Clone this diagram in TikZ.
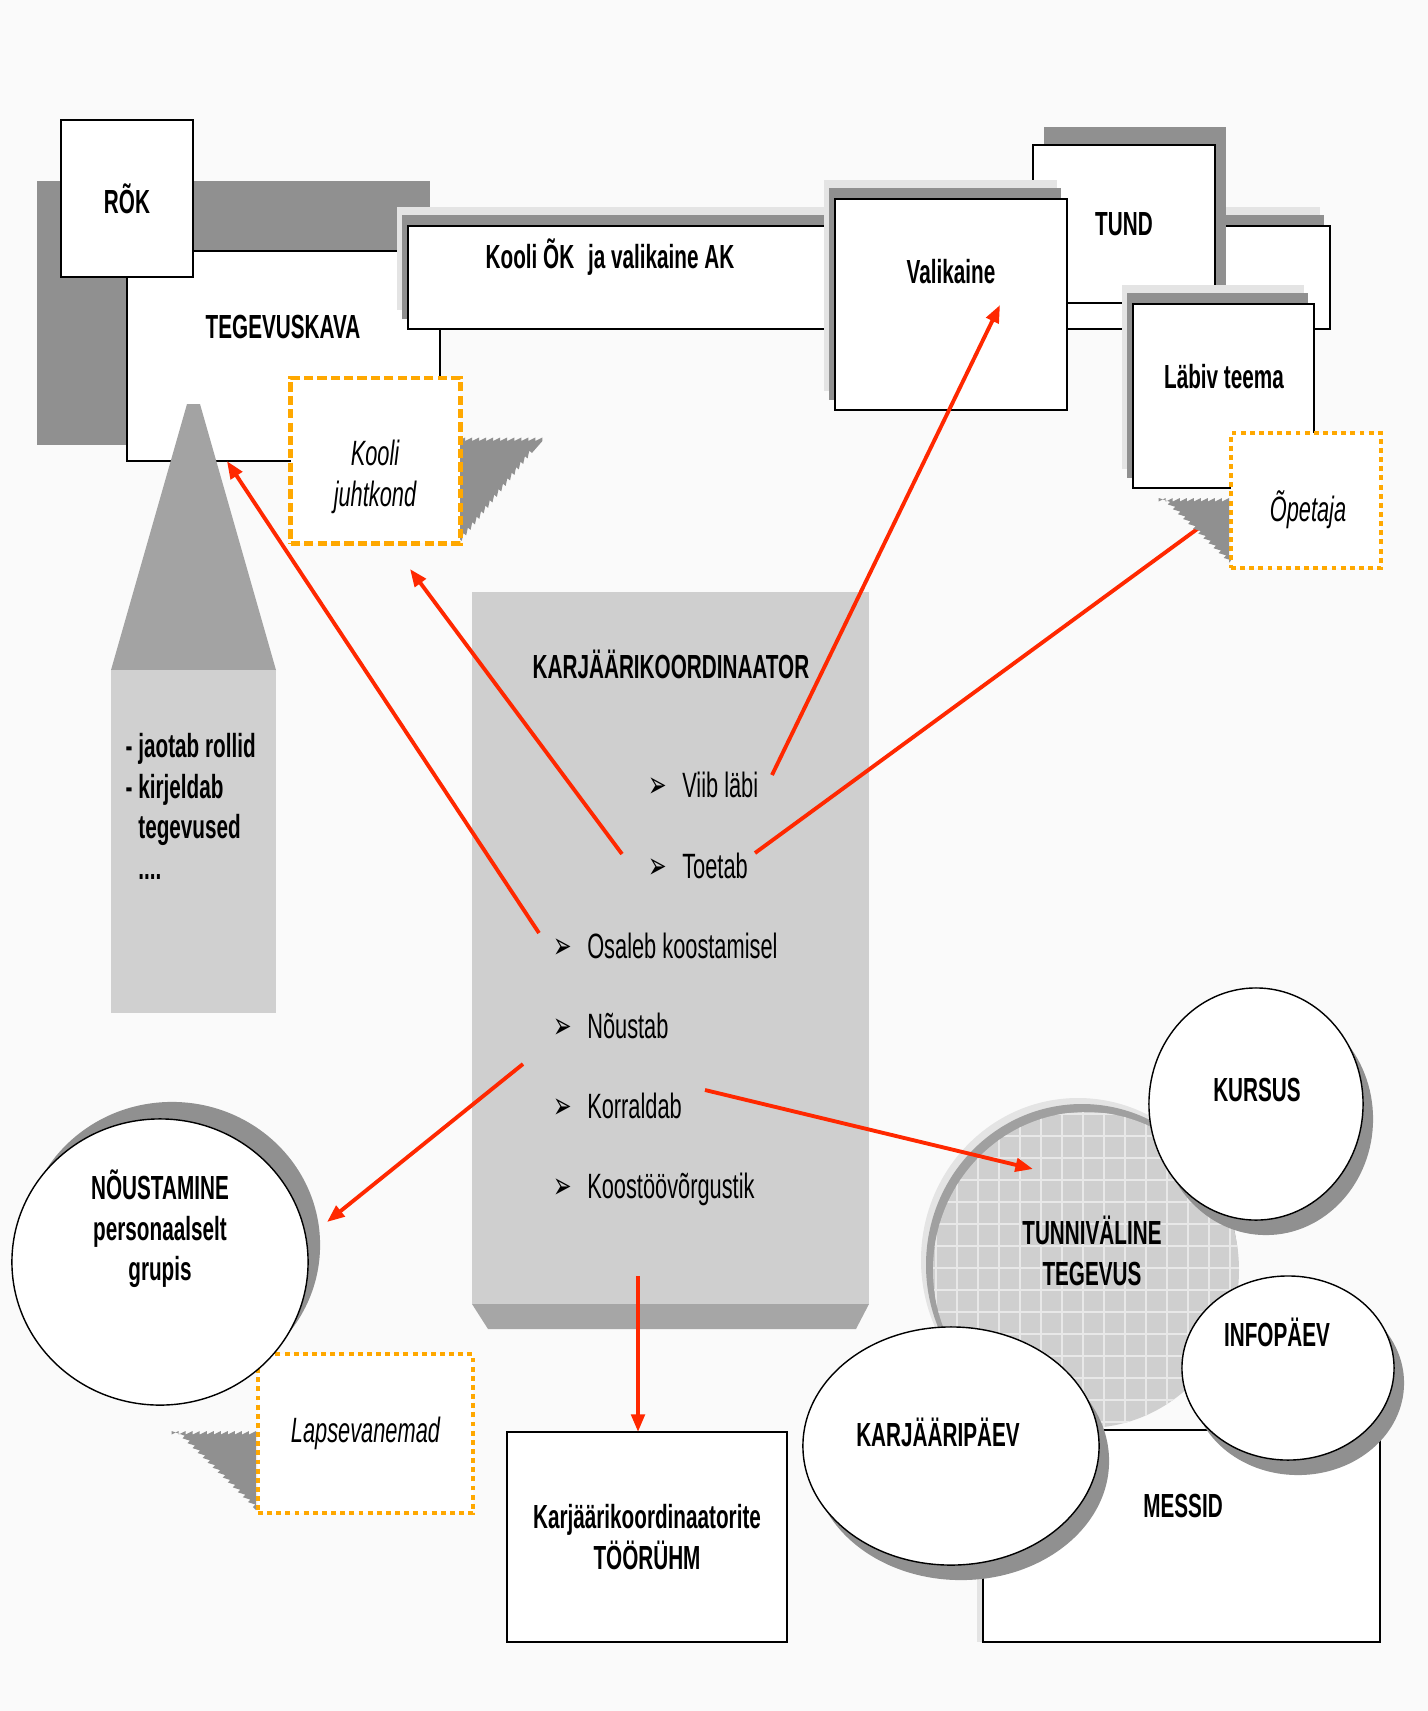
\documentclass[tikz,border=0pt]{standalone}
\usepackage{fontspec}
\setmainfont{Liberation Sans}[FakeStretch=0.62]
\newfontfamily\symf{DejaVu Sans}[FakeStretch=0.6]
\usetikzlibrary{arrows.meta,calc,shadows,shapes.geometric,decorations.pathmorphing}
\definecolor{paper}{RGB}{250,250,250}
\definecolor{shadedark}{RGB}{144,144,144}
\definecolor{shadelight}{RGB}{228,228,228}
\definecolor{pyramid}{RGB}{163,163,163}
\definecolor{pillar}{RGB}{208,208,208}
\definecolor{panel}{RGB}{207,207,207}
\definecolor{panelbase}{RGB}{166,166,166}
\definecolor{rim}{RGB}{160,160,160}
\definecolor{gridline}{RGB}{232,232,232}
\definecolor{hilite}{RGB}{255,168,0}
\definecolor{linkred}{RGB}{255,40,0}
\newcommand{\itembullet}{{\symf\fontsize{10.5}{10}\selectfont ➢}\hspace{1.5mm}}
\tikzset{
  box/.style={draw, fill=white, line width=0.6pt, inner sep=0pt, outer sep=0pt},
  blob/.style={ellipse, draw, fill=white, line width=0.4pt, inner sep=0pt},
  role/.style={draw=hilite, fill=white, line width=1.4pt, dash pattern=on 2.6pt off 1.2pt, inner sep=0pt},
  rolealt/.style={draw=hilite, fill=white, line width=1.1pt, dash pattern=on 1.4pt off 1.2pt, inner sep=0pt},
  lbl/.style={font=\fontsize{9.5}{11.5}\selectfont\bfseries, align=center, inner sep=0pt},
  itm/.style={font=\fontsize{10}{12}\selectfont, anchor=west, inner sep=0pt},
  ital/.style={font=\fontsize{10}{11.5}\selectfont\itshape, align=center, inner sep=0pt},
  link/.style={-{Triangle[length=5pt,width=3.8pt]}, color=linkred, line width=1.1pt},
  sawedge/.style={decoration={saw, segment length=2pt, amplitude=1pt}},
  liftshadow/.style={general shadow={fill=shadelight, shadow xshift=-1.05mm, shadow yshift=1.9mm},
                     general shadow={fill=shadedark, shadow xshift=-0.6mm, shadow yshift=1.05mm}},
  tundshadow/.style={general shadow={fill=shadedark, shadow xshift=1.1mm, shadow yshift=1.8mm}},
  dropshadow/.style={general shadow={fill=shadedark, shadow xshift=1mm, shadow yshift=-1.5mm}},
}

\begin{document}
\begin{tikzpicture}[x=0.01cm, y=-0.01cm]
  \useasboundingbox (0,0) rectangle (1428,1711);
  \fill[paper] (0,0) rectangle (1428,1711);

  % plan, top left
  \fill[shadedark] (37,181) rectangle (430,445);
  \node[box, minimum width=31.3mm, minimum height=21mm] (tegevuskava) at (283.5,356) {};
  \node[lbl] (tegevuslbl) at (283,327) {TEGEVUSKAVA};
  \node[box, lbl, minimum width=13.2mm, minimum height=15.7mm] (rok) at (127,198.5) {RÕK};

  % curriculum strip
  \node[box, liftshadow, minimum width=92.2mm, minimum height=10.3mm] (oppekava) at (869,277.5) {};
  \node[lbl] (oppekavalbl) at (610,257) {Kooli ÕK\hspace{0.8mm} ja valikaine AK};
  \node[box, lbl, tundshadow, minimum width=18.2mm, minimum height=15.8mm] (tund) at (1124,224) {TUND};
  \node[box, liftshadow, minimum width=23.2mm, minimum height=21.1mm] (valikaine) at (951,304.5) {};
  \node[lbl] (valikainelbl) at (951,272) {Valikaine};
  \node[box, liftshadow, minimum width=18.1mm, minimum height=18.4mm] (labiv) at (1223.5,396) {};
  \node[lbl] (labivlbl) at (1224,377) {Läbiv teema};

  % pyramid
  \fill[pyramid] (187,404) -- (200,404) -- (276,670) -- (111,670) -- cycle;
  \fill[pillar] (111,670) rectangle (276,1013);
  \node[lbl, align=left, anchor=north west] (duties) at (125,733)
    {- jaotab rollid\\- kirjeldab\\\phantom{- }tegevused\\\phantom{- }....};

  % school management
  \fill[shadedark] (458,540) -- (458,441) decorate[sawedge] { -- (537,441) -- (458,540) };
  \node[role, minimum width=16.9mm, minimum height=16.5mm] (juhtkond) at (375.5,460.5) {};
  \node[ital] (juhtkondlbl) at (375,477) {Kooli\\juhtkond};

  % teacher
  \node[rolealt, minimum width=15mm, minimum height=13.5mm] (opetaja) at (1306,500.5) {};
  \node[ital] (opetajalbl) at (1308,510) {Õpetaja};

  % coordinator panel
  \fill[panel] (472,592) rectangle (869,1304);
  \fill[panelbase] (472,1304) -- (869,1304) -- (856,1329) -- (488,1329) -- cycle;
  \node[lbl] (koordinaator) at (671,664) {KARJÄÄRIKOORDINAATOR};
  \node[itm] (viib) at (648,785) {\itembullet Viib läbi};
  \node[itm] (toetab) at (648,866) {\itembullet Toetab};
  \node[itm] (osaleb) at (553,946) {\itembullet Osaleb koostamisel};
  \node[itm] (noustab) at (553,1026) {\itembullet Nõustab};
  \node[itm] (korraldab) at (553,1106) {\itembullet Korraldab};
  \node[itm] (koostoo) at (553,1189) {\itembullet Koostöövõrgustik};

  % parents and counselling
  \fill[shadedark] (256,1510) -- (256,1431) decorate[sawedge] { -- (175,1431) -- (256,1510) };
  \node[rolealt, ital, minimum width=21.5mm, minimum height=15.9mm] (lapsevanemad) at (365.5,1433.5) {Lapsevanemad};
  \node[blob, general shadow={fill=shadedark, shadow xshift=1.2mm, shadow yshift=1.7mm},
        minimum width=29.6mm, minimum height=28.6mm] (noustamine) at (160,1262) {};
  \node[lbl] (noustaminelbl) at (160,1229) {NÕUSTAMINE\\personaalselt\\grupis};

  % work group
  \node[box, lbl, minimum width=28mm, minimum height=21mm] (toogrupp) at (647,1537) {Karjäärikoordinaatorite\\TÖÖRÜHM};

  % events
  \node[box, general shadow={fill=shadelight, shadow xshift=-0.6mm},
        minimum width=39.7mm, minimum height=21.2mm] (messid) at (1181.5,1536) {};
  \node[lbl] (messidlbl) at (1183,1506) {MESSID};
  \fill[shadelight] (1078,1260) ellipse [x radius=157, y radius=162];
  \fill[rim] (1082,1265) ellipse [x radius=156, y radius=161];
  \begin{scope}
    \clip (1086,1270) ellipse [x radius=153, y radius=158];
    \fill[panel] (925,1105) rectangle (1245,1435);
    \foreach \gx in {936,957,...,1240} \draw[gridline, line width=0.35pt] (\gx,1105) -- (\gx,1435);
    \foreach \gy in {1114,1136,...,1430} \draw[gridline, line width=0.35pt] (925,\gy) -- (1245,\gy);
  \end{scope}
  \node[lbl] (tunnilbl) at (1092,1251) {TUNNIVÄLINE\\TEGEVUS};
  \node[blob, dropshadow, minimum width=21.4mm, minimum height=23.2mm] (kursus) at (1256,1104) {};
  \node[lbl] (kursuslbl) at (1257,1090) {KURSUS};
  \node[blob, dropshadow, minimum width=21.2mm, minimum height=18.4mm] (infopaev) at (1288,1368) {};
  \node[lbl] (infopaevlbl) at (1277,1332) {INFOPÄEV};
  \node[blob, dropshadow, minimum width=29.6mm, minimum height=23.8mm] (karjaaripaev) at (951,1446) {};
  \node[lbl] (karjaaripaevlbl) at (938,1432) {KARJÄÄRIPÄEV};

  % connector ends
  \coordinate (viibtail) at (772,775);
  \coordinate (toetabtail) at (755,853);
  \coordinate (toetabside) at (622,854);
  \coordinate (osalebtail) at (539,933);
  \coordinate (noustabtail) at (523,1064);
  \coordinate (korraldabtail) at (705,1090);
  \coordinate (paneltail) at (638,1276);
  \coordinate (tegevustip) at ($(tegevuskava.south west)+(100,0)$);
  \coordinate (juhtkondtip) at (410,569);
  \coordinate (valikainetip) at (1000,305);
  \coordinate (opetajatip) at (1200,527);
  \coordinate (noustaminetip) at (327,1222);
  \coordinate (tunnitip) at (1033,1169);
  \coordinate (toogrupptip) at ($(toogrupp.north)+(-9,0)$);

  \draw[link] (osalebtail) -- (tegevustip);
  \draw[link] (toetabside) -- (juhtkondtip);
  \draw[link] (viibtail) -- (valikainetip);
  \draw[link, -] (toetabtail) -- (opetajatip);
  \draw[link] (noustabtail) -- (noustaminetip);
  \draw[link] (korraldabtail) -- (tunnitip);
  \draw[link] (paneltail) -- (toogrupptip);

  % triangle at the teacher box
  \fill[shadedark] (1229,563) -- (1229,498) decorate[sawedge] { -- (1161,498) -- (1229,563) };
\end{tikzpicture}
\end{document}
